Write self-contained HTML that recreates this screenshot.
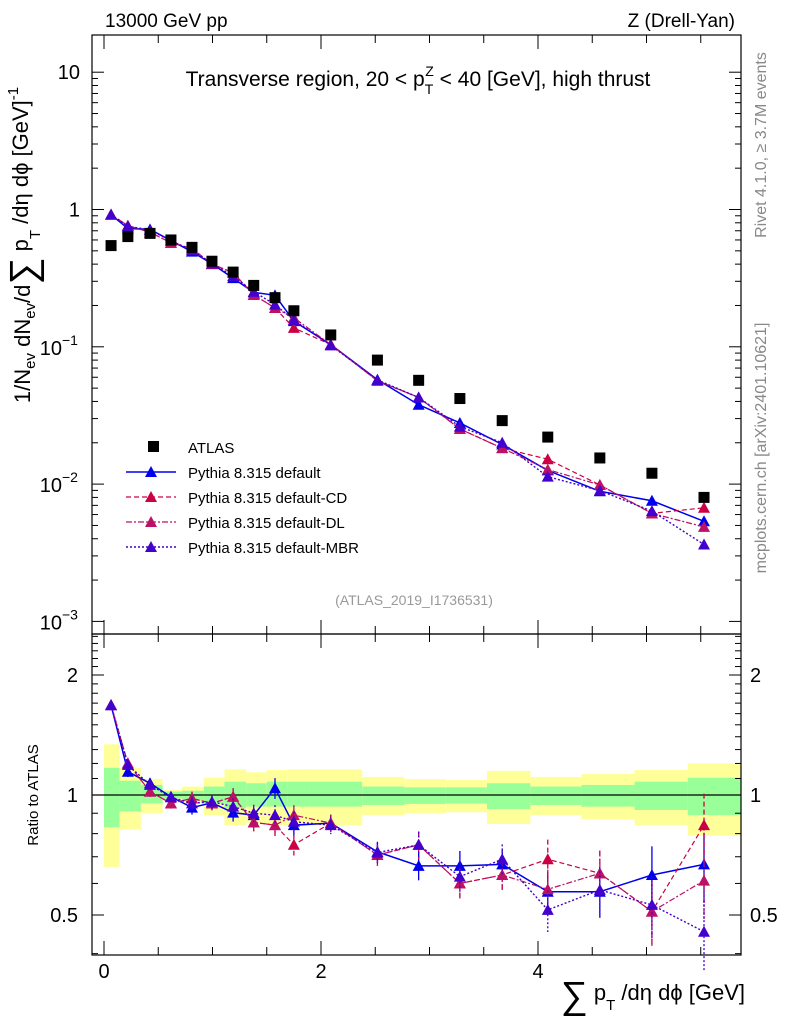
<!DOCTYPE html>
<html><head><meta charset="utf-8"><style>
body{margin:0;background:#fff;}
svg{display:block;font-family:"Liberation Sans",sans-serif;}
</style></head><body>
<svg id="c" width="786" height="1024" viewBox="0 0 786 1024"></svg>
<script>
const binEdges=[0,0.144,0.34,0.54,0.72,0.92,1.11,1.31,1.50,1.69,1.89,2.38,2.77,3.15,3.53,3.93,4.40,4.89,5.38,5.87];
const xVals=[0.065,0.22,0.424,0.617,0.811,0.995,1.19,1.38,1.576,1.75,2.09,2.52,2.90,3.28,3.67,4.09,4.57,5.05,5.53];
const atlasVals=[0.546,0.635,0.67,0.60,0.53,0.42,0.35,0.28,0.228,0.183,0.122,0.080,0.057,0.042,0.029,0.022,0.0155,0.012,0.008];
const yelUp=[1.34,1.17,1.097,1.03,1.05,1.105,1.16,1.14,1.155,1.16,1.16,1.11,1.097,1.09,1.15,1.11,1.13,1.155,1.2];
const yelLo=[0.66,0.82,0.90,0.97,0.953,0.89,0.84,0.85,0.84,0.84,0.84,0.89,0.90,0.905,0.846,0.89,0.87,0.84,0.79];
const grnUp=[1.17,1.086,1.06,1.02,1.025,1.05,1.08,1.07,1.08,1.08,1.08,1.05,1.045,1.045,1.07,1.05,1.06,1.08,1.105];
const grnLo=[0.83,0.91,0.953,0.98,0.97,0.953,0.926,0.935,0.935,0.935,0.935,0.944,0.95,0.952,0.922,0.944,0.935,0.917,0.89];
const rDefault=[1.68,1.144,1.07,0.99,0.93,0.956,0.903,0.89,1.04,0.84,0.85,0.72,0.664,0.664,0.67,0.572,0.572,0.63,0.67];
const rCD=[1.68,1.2,1.02,0.953,0.98,0.953,0.99,0.854,0.84,0.75,0.85,0.707,0.75,0.6,0.63,0.69,0.636,0.51,0.84];
const rDL=[1.68,1.2,1.02,0.953,0.98,0.953,0.99,0.854,0.84,0.89,0.85,0.707,0.75,0.6,0.63,0.58,0.636,0.51,0.61];
const rMBR=[1.68,1.19,1.06,0.987,0.953,0.962,0.935,0.9,0.89,0.857,0.84,0.717,0.75,0.624,0.69,0.515,0.578,0.53,0.454];
const relErr=[0.01,0.015,0.015,0.015,0.02,0.02,0.025,0.025,0.03,0.03,0.025,0.03,0.04,0.045,0.045,0.06,0.07,0.09,0.1];

const NS="http://www.w3.org/2000/svg",svg=document.getElementById('c');
function el(t,a,p){const e=document.createElementNS(NS,t);for(const k in a)e.setAttribute(k,a[k]);(p||svg).appendChild(e);return e;}
function txt(s,a,p){const e=el('text',a,p);e.textContent=s;return e;}
const X0=92,X1=741,T=35,MID=634,B=955;
const xs=v=>104+v*108.5;
const ym=v=>209.5-137.3*Math.log10(v);
const yr=v=>795-120*Math.log2(v);
const gb=el('g',{});
for(let i=0;i<xVals.length;i++){
 const a=xs(binEdges[i]),b=xs(binEdges[i+1]);
 el('rect',{x:a,y:yr(yelUp[i]),width:b-a,height:yr(yelLo[i])-yr(yelUp[i]),fill:'#ffff99'},gb);
 el('rect',{x:a,y:yr(grnUp[i]),width:b-a,height:yr(grnLo[i])-yr(grnUp[i]),fill:'#99ff99'},gb);
}
el('line',{x1:X0,x2:X1,y1:yr(1),y2:yr(1),stroke:'#000','stroke-width':1.2});
el('rect',{x:X0,y:T,width:X1-X0,height:MID-T,fill:'none',stroke:'#000','stroke-width':1.2});
el('rect',{x:X0,y:MID,width:X1-X0,height:B-MID,fill:'none',stroke:'#000','stroke-width':1.2});
for(let d=-3;d<=1;d++){for(let m=1;m<10;m++){const v=m*Math.pow(10,d);const y=ym(v);if(y<T||y>MID)continue;const L=m==1?12:6;
 el('line',{x1:X0,x2:X0+L,y1:y,y2:y,stroke:'#000'});el('line',{x1:X1,x2:X1-L,y1:y,y2:y,stroke:'#000'});}}
[[10,'10'],[1,'1']].forEach(([v,s])=>txt(s,{x:80,y:ym(v)+7,'font-size':20,'text-anchor':'end'}));
[[0.1,'−1'],[0.01,'−2'],[0.001,'−3']].forEach(([v,s])=>{txt('10',{x:62,y:ym(v)+8,'font-size':20,'text-anchor':'end'});txt(s,{x:62,y:ym(v)-2,'font-size':14});});
[0.4,0.5,0.6,0.7,0.8,0.9,1,1.1,1.2,1.3,1.4,1.5,1.6,1.7,1.8,1.9,2,2.1,2.2,2.3,2.4,2.5].forEach(v=>{const y=yr(v);if(y<MID||y>B)return;const L=(v==0.5||v==1||v==2)?12:6;
 el('line',{x1:X0,x2:X0+L,y1:y,y2:y,stroke:'#000'});el('line',{x1:X1,x2:X1-L,y1:y,y2:y,stroke:'#000'});});
[[2,'2'],[1,'1'],[0.5,'0.5']].forEach(([v,s])=>{txt(s,{x:78,y:yr(v)+7,'font-size':20,'text-anchor':'end'});txt(s,{x:750,y:yr(v)+7,'font-size':20});});
for(let v=0;v<=5.8;v+=0.5){const x=xs(v),L=(Math.abs(v%2)<1e-6)?14:8;
 el('line',{x1:x,x2:x,y1:B,y2:B-L,stroke:'#000'});el('line',{x1:x,x2:x,y1:MID,y2:MID-L,stroke:'#000'});el('line',{x1:x,x2:x,y1:T,y2:T+L,stroke:'#000'});el('line',{x1:x,x2:x,y1:MID,y2:MID+L,stroke:'#000'});}
[0,2,4].forEach(v=>txt(String(v),{x:xs(v),y:978,'font-size':20,'text-anchor':'middle'}));
txt('13000 GeV pp',{x:105,y:27,'font-size':19});
txt('Z (Drell-Yan)',{x:735,y:27,'font-size':19,'text-anchor':'end'});
const ti=txt('',{x:418,y:86,'font-size':21,'text-anchor':'middle'});
ti.innerHTML='Transverse region, 20 &lt; p<tspan font-size="14" dy="8">T</tspan><tspan font-size="14" dx="-8" dy="-18">Z</tspan><tspan dy="10"> &lt; 40 [GeV], high thrust</tspan>';

txt('Rivet 4.1.0, ≥ 3.7M events',{x:766,y:145,'font-size':16,fill:'#888','text-anchor':'middle',transform:'rotate(-90 766 145)'});
txt('mcplots.cern.ch [arXiv:2401.10621]',{x:766,y:448,'font-size':16,fill:'#888','text-anchor':'middle',transform:'rotate(-90 766 448)'});
txt('(ATLAS_2019_I1736531)',{x:414,y:605,'font-size':14,fill:'#999','text-anchor':'middle'});
const yl=txt('',{x:30,y:245,'font-size':22,'text-anchor':'middle',transform:'rotate(-90 30 245)'});
yl.innerHTML='1/N<tspan font-size="15" dy="5">ev</tspan><tspan dy="-5"> dN</tspan><tspan font-size="15" dy="5">ev</tspan><tspan dy="-5">/d</tspan><tspan font-size="38" dy="6">∑</tspan><tspan dy="-8"> p</tspan><tspan font-size="15" dy="12">T</tspan><tspan dy="-12"> /dη dϕ  [GeV]</tspan><tspan font-size="15" dy="-10">-1</tspan>';

txt('Ratio to ATLAS',{x:38,y:795,'font-size':15,'text-anchor':'middle',transform:'rotate(-90 38 795)'});
const xl=txt('',{x:745,y:1000,'font-size':22,'text-anchor':'end'});
xl.innerHTML='<tspan font-size="38" dy="8">∑</tspan><tspan dy="-8"> p</tspan><tspan font-size="15" dy="10">T</tspan><tspan dy="-10"> /dη dϕ [GeV]</tspan>';

const series=[['default',rDefault,'#0000ee','none',1.5],['cd',rCD,'#cc0044','5,3',1.2],['dl',rDL,'#bb1166','6,2,2,2',1.2],['mbr',rMBR,'#4400cc','2,2',1.4]];
function tri(x,y,c,p){el('path',{d:`M${x-6},${y+5}L${x+6},${y+5}L${x},${y-6}Z`,fill:c},p);}
series.forEach(([n,r,c,da,w])=>{
 const g=el('g',{});
 const mp=xVals.map((x,i)=>xs(x)+','+ym(atlasVals[i]*r[i])).join(' ');
 const rp=xVals.map((x,i)=>xs(x)+','+yr(r[i])).join(' ');
 el('polyline',{points:mp,fill:'none',stroke:c,'stroke-width':w,'stroke-dasharray':da},g);
 el('polyline',{points:rp,fill:'none',stroke:c,'stroke-width':w,'stroke-dasharray':da},g);
 xVals.forEach((x,i)=>{const e=relErr[i];
  el('line',{x1:xs(x),x2:xs(x),y1:yr(r[i]*(1+e*2)),y2:yr(r[i]*(1-e*2)),stroke:c,'stroke-width':1.3,'stroke-dasharray':da},g);
  tri(xs(x),ym(atlasVals[i]*r[i]),c,g);tri(xs(x),yr(r[i]),c,g);});
});
const ga=el('g',{});
xVals.forEach((x,i)=>el('rect',{x:xs(x)-5.5,y:ym(atlasVals[i])-5.5,width:11,height:11,fill:'#000'},ga));
const lg=el('g',{});
el('rect',{x:148,y:441,width:11,height:11,fill:'#000'},lg);txt('ATLAS',{x:188,y:453,'font-size':15},lg);
const names=['Pythia 8.315 default','Pythia 8.315 default-CD','Pythia 8.315 default-DL','Pythia 8.315 default-MBR'];
series.forEach(([n,r,c,da,w],i)=>{const y=472+i*25;
 el('line',{x1:126,x2:176,y1:y,y2:y,stroke:c,'stroke-width':w,'stroke-dasharray':da},lg);tri(151,y,c,lg);
 txt(names[i],{x:188,y:y+6,'font-size':15},lg);});
</script>
</body></html>
